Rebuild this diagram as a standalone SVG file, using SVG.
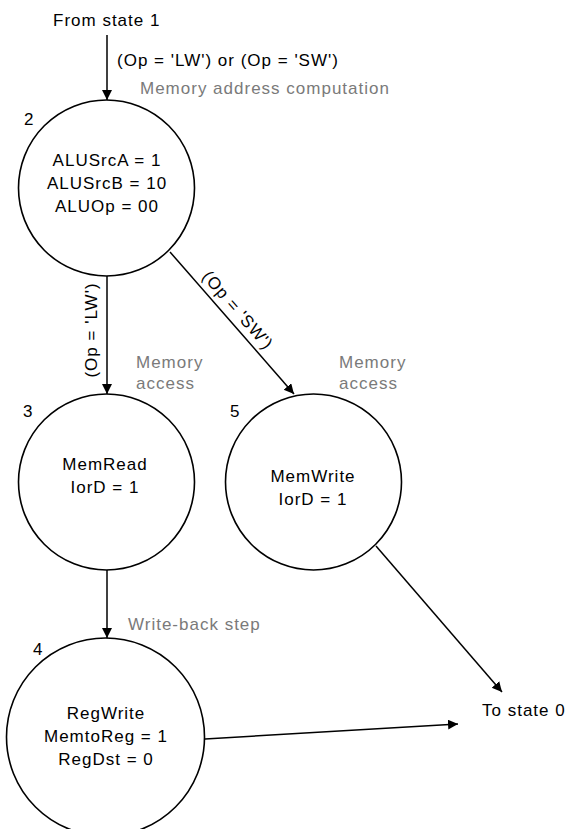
<svg xmlns="http://www.w3.org/2000/svg" width="568" height="829" viewBox="0 0 568 829">
<style>
text{font-family:"Liberation Sans",Arial,sans-serif;font-size:17px;letter-spacing:1px;fill:#000}
.g{fill:#7a7a7a}
.c{text-anchor:middle}
.st{fill:#fff;stroke:#000;stroke-width:1.6}
.ln{stroke:#000;stroke-width:1.5;fill:none;marker-end:url(#ah)}
</style>
<defs>
<marker id="ah" markerUnits="userSpaceOnUse" markerWidth="11" markerHeight="11" refX="10" refY="5" orient="auto">
<path d="M0,0 L10,5 L0,10 z" fill="#000"/>
</marker>
</defs>
<rect width="568" height="829" fill="#fff"/>
<g id="connectors">
<line class="ln" x1="107" y1="35" x2="107" y2="100"/>
<line class="ln" x1="107" y1="276" x2="107" y2="394"/>
<line class="ln" x1="170" y1="252" x2="294" y2="394"/>
<line class="ln" x1="107" y1="570" x2="107" y2="638"/>
<line class="ln" x1="376" y1="546" x2="502" y2="692"/>
<line class="ln" x1="205" y1="739" x2="458" y2="724"/>
</g>
<g id="labels">
<text x="53" y="26">From state 1</text>
<text x="117" y="66">(Op = 'LW') or (Op = 'SW')</text>
<text class="g" x="140" y="94">Memory address computation</text>
<text class="c" transform="translate(96.5,330) rotate(-90)">(Op = 'LW')</text>
<text class="c" transform="translate(233.5,314) rotate(49)">(Op = 'SW')</text>
<text class="g" x="136" y="368">Memory</text>
<text class="g" x="136" y="389">access</text>
<text class="g" x="339" y="368">Memory</text>
<text class="g" x="339" y="389">access</text>
<text class="g" x="128" y="630">Write-back step</text>
<text x="482" y="716">To state 0</text>
</g>
<g id="state2">
<circle class="st" cx="106.5" cy="188" r="88"/>
<text x="24" y="125">2</text>
<text class="c" x="107" y="166">ALUSrcA = 1</text>
<text class="c" x="107" y="189">ALUSrcB = 10</text>
<text class="c" x="107" y="212">ALUOp = 00</text>
</g>
<g id="state3">
<circle class="st" cx="106.5" cy="482" r="88"/>
<text x="23" y="417">3</text>
<text class="c" x="105" y="470">MemRead</text>
<text class="c" x="105" y="493">IorD = 1</text>
</g>
<g id="state5">
<circle class="st" cx="313.5" cy="482" r="88"/>
<text x="230" y="417">5</text>
<text class="c" x="313" y="482">MemWrite</text>
<text class="c" x="313" y="505">IorD = 1</text>
</g>
<g id="state4">
<circle class="st" cx="105.5" cy="737" r="99"/>
<text x="33" y="655">4</text>
<text class="c" x="106" y="719">RegWrite</text>
<text class="c" x="106" y="742">MemtoReg = 1</text>
<text class="c" x="106" y="765">RegDst = 0</text>
</g>
</svg>
